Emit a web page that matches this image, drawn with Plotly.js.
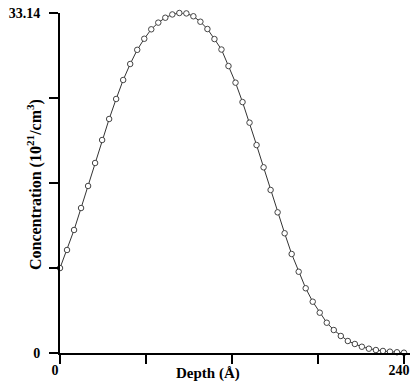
<!DOCTYPE html>
<html>
<head>
<meta charset="utf-8">
<script src="https://cdn.plot.ly/plotly-3.0.1.min.js"></script>
<style>html,body{margin:0;padding:0;background:#fff;}#chart{width:410px;height:383px;}</style>
</head>
<body>
<div id="chart"></div>
<script>
var depth = [0, 4.9, 9.8, 14.69, 19.59, 24.49, 29.39, 34.29, 39.18, 44.08, 48.98, 53.88, 58.78, 63.67, 68.57, 73.47, 78.37, 83.27, 88.16, 93.06, 97.96, 102.86, 107.76, 112.65, 117.55, 122.45, 127.35, 132.24, 137.14, 142.04, 146.94, 151.84, 156.73, 161.63, 166.53, 171.43, 176.33, 181.22, 186.12, 191.02, 195.92, 200.82, 205.71, 210.61, 215.51, 220.41, 225.31, 230.2, 235.1, 240];
var concentration = [8.28, 10.04, 11.99, 14.13, 16.28, 18.52, 20.76, 22.81, 24.76, 26.61, 28.17, 29.55, 30.63, 31.55, 32.2, 32.68, 33.0, 33.14, 33.1, 32.82, 32.29, 31.58, 30.6, 29.58, 27.97, 26.35, 24.46, 22.45, 20.27, 18.1, 15.89, 13.71, 11.67, 9.65, 7.92, 6.31, 5.0, 3.93, 2.95, 2.24, 1.66, 1.17, 0.88, 0.61, 0.42, 0.29, 0.2, 0.13, 0.07, 0.03];
var xTickVals = [0, 60, 120, 180, 240];
var xTickText = ["0", "", "", "", "240"];
var yTickVals = [0, 8.285, 16.57, 24.855, 33.14];
var yTickText = ["0", "", "", "", "33.14"];
var xTitle = "Depth (Å)";
var yTitle = "Concentration (10<sup>21</sup>/cm<sup>3</sup>)";

var serif = {family: "Liberation Serif, Times New Roman, serif", size: 14, color: "#000", weight: "bold"};

var trace = {
  x: depth, y: concentration, type: "scatter", mode: "lines+markers",
  line: {color: "#333", width: 1},
  marker: {symbol: "circle", size: 5.5, color: "#fff", line: {color: "#444", width: 1}},
  cliponaxis: false, hoverinfo: "none"
};

var layout = {
  width: 410, height: 383,
  margin: {l: 60, r: 0, t: 13, b: 30},
  paper_bgcolor: "#fff", plot_bgcolor: "#fff",
  showlegend: false,
  xaxis: {
    range: [0, 244.2], showgrid: false, zeroline: false,
    showline: true, linecolor: "#000", linewidth: 2,
    ticks: "outside", ticklen: 9, tickwidth: 2, tickcolor: "#000",
    tickmode: "array", tickvals: xTickVals, ticktext: xTickText,
    tickfont: serif, ticklabelshift: -5, ticklabelstandoff: -6
  },
  yaxis: {
    range: [0, 33.14], showgrid: false, zeroline: false,
    showline: true, linecolor: "#000", linewidth: 2,
    ticks: "outside", ticklen: 9, tickwidth: 2, tickcolor: "#000",
    tickmode: "array", tickvals: yTickVals, ticktext: yTickText,
    tickfont: serif, ticklabelstandoff: 6
  },
  annotations: [
    {text: xTitle, xref: "paper", yref: "paper", x: 0.423, y: 0, yshift: -20,
     xanchor: "center", yanchor: "middle", showarrow: false,
     font: {family: serif.family, size: 15, color: "#000", weight: "bold"}},
    {text: yTitle, xref: "paper", yref: "paper", x: 0, xshift: -26, y: 0.494,
     xanchor: "center", yanchor: "middle", textangle: -90, showarrow: false,
     font: {family: serif.family, size: 16, color: "#000", weight: "bold"}}
  ]
};

Plotly.newPlot("chart", [trace], layout, {displayModeBar: false, staticPlot: true});
</script>
</body>
</html>
